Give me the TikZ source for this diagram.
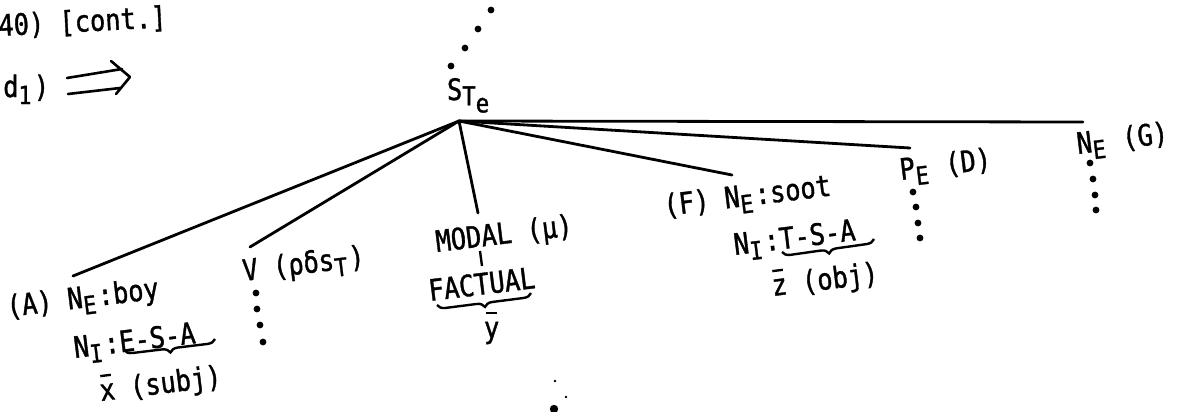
\documentclass[tikz,border=0pt]{standalone}
\usepackage{fontspec}
\setmainfont{DejaVu Sans Mono}[FakeStretch=0.86,FakeBold=1.2]
\usetikzlibrary{decorations.pathreplacing}
\newcommand\sbs[1]{\raisebox{-0.24em}{\makebox[15.35pt][l]{\fontsize{25}{25}\selectfont #1}}}
\newcommand\ovl[1]{\ooalign{#1\cr\hidewidth\rule[0.8em]{0.36em}{0.08em}\hidewidth\cr}}
\begin{document}
\begin{tikzpicture}[x=1pt,y=-1pt,
  lbl/.style={anchor=base west, inner sep=0pt, outer sep=0pt,
              font=\fontsize{29.5}{33}\selectfont},
  tlbl/.style={lbl, rotate=7},
  edge/.style={line width=2.8pt, line cap=round},
  brc/.style={decorate, decoration={brace, mirror, amplitude=8pt}, line width=2.4pt},
  dotf/.style={fill=black}]
\useasboundingbox (0,0) rectangle (1179,412);

% header
\node[lbl, rotate=3] (hdr) at (-1,36) {40) [cont.]};
\node[lbl] (dd) at (-12,97) {(d\sbs{1})};
\draw[line width=2.6pt, line cap=round, line join=round]
  (67,78) -- (122,69) (68,94) -- (120,88) (111,61) -- (130,77) -- (116,94);

% root label
\node[lbl] (S) at (447,100) {S\raisebox{-0.18em}{\fontsize{26}{26}\selectfont T}\raisebox{-0.42em}{\fontsize{26}{26}\selectfont e}};
\coordinate (root) at (459,121);
\foreach \p in {(491,10),(478,29),(465,48),(451,66)} \fill[dotf] \p circle (3.4);

% line ends
\coordinate (eA) at (73,276);
\coordinate (eV) at (250,247);
\coordinate (eM) at (478,213);
\coordinate (eF) at (732,175);
\coordinate (eP) at (910,148);
\coordinate (eG) at (1083,122);
\foreach \e in {eA,eV,eM,eF,eP,eG} \draw[edge] (root) -- (\e);

% (A)
\node[tlbl] (A1) at (8,317) {(A) N\sbs{E}:boy};
\node[tlbl] (A2) at (75,358) {N\sbs{I}:E-S-A};
\node[tlbl] (A3) at (101,401) {\ovl{x} (subj)};
\draw[brc] (124,350) -- (215,339);

% V
\node[tlbl] (V) at (244,281) {V (ρδs\sbs{T})};
\foreach \p in {(256,293),(257,309),(260,325),(263,342)} \fill[dotf] \p circle (3.4);

% MODAL
\node[tlbl] (M1) at (437,252) {MODAL (μ)};
\node[tlbl] (M2) at (430,301) {FACTUAL};
\coordinate (mt1) at (480,251);
\coordinate (mt2) at (482,266);
\draw[line width=2.4pt] (mt1) -- (mt2);
\draw[brc] (437,305) -- (531,293);
\node[lbl] (M3) at (484,338) {\ovl{y}};

% (F)
\node[tlbl] (F1) at (665,216) {(F) N\sbs{E}:soot};
\node[tlbl] (F2) at (735,255) {N\sbs{I}:T-S-A};
\node[tlbl] (F3) at (773,296) {\ovl{z} (obj)};
\draw[brc] (782,252) -- (874,239);

% P_E (D)
\node[tlbl] (P) at (901,180) {P\sbs{E} (D)};
\foreach \p in {(913,192),(916,207),(918,223),(920,238)} \fill[dotf] \p circle (3.4);

% N_E (G)
\node[tlbl] (G) at (1078,154) {N\sbs{E} (G)};
\foreach \p in {(1090,163),(1093,179),(1095,195),(1096,210)} \fill[dotf] \p circle (3.4);

% bottom dots
\fill[dotf] (554,409) circle (4.2);
\fill[dotf] (555,381) circle (1.3);
\fill[dotf] (566,397) circle (1.3);
\end{tikzpicture}
\end{document}
